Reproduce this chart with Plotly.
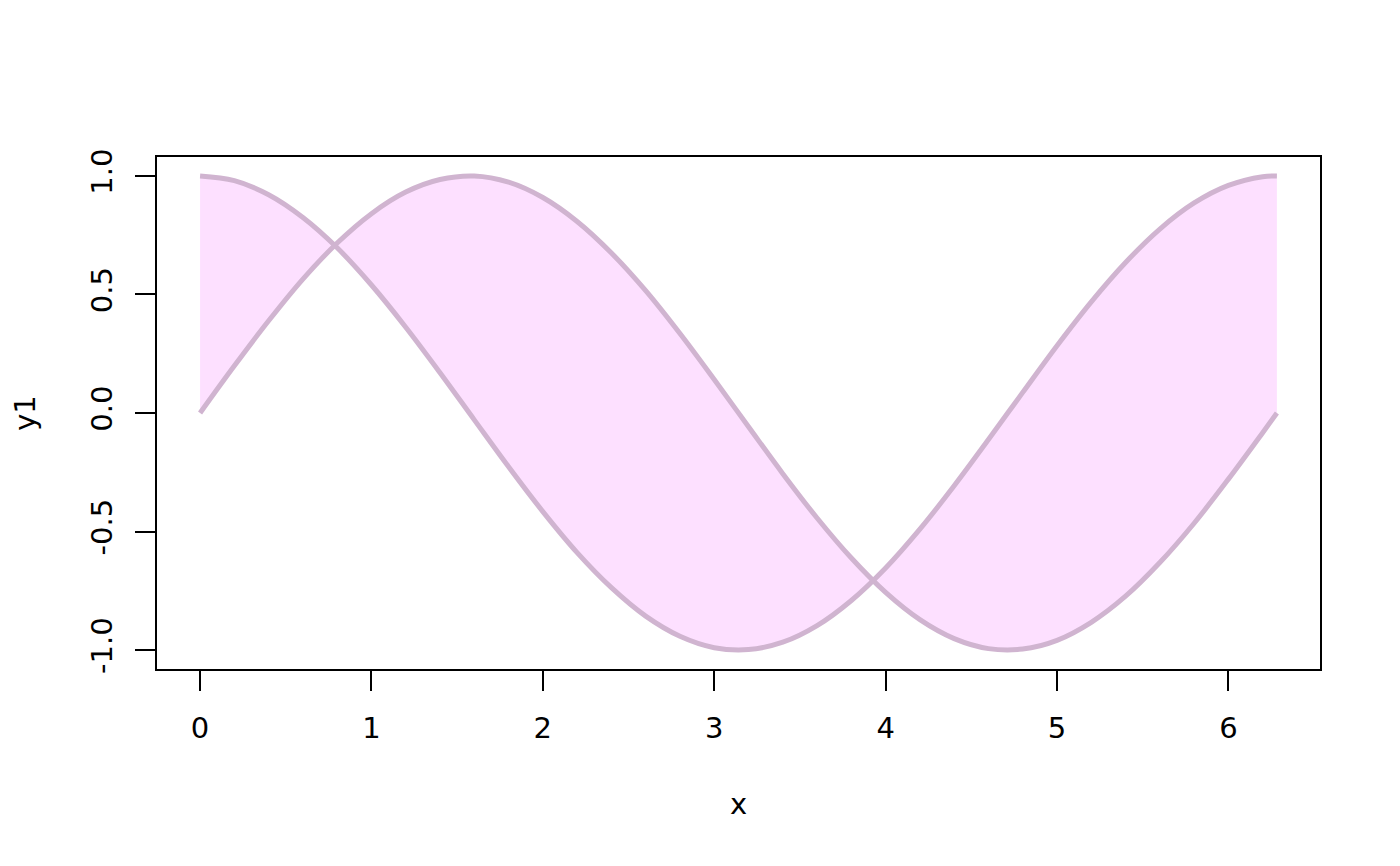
import plotly.graph_objects as go

x = [0, 0.2, 0.4, 0.6, 0.8, 1.0, 1.2, 1.4, 1.6, 1.8, 2.0, 2.2, 2.4, 2.6, 2.8, 3.0,
     3.2, 3.4, 3.6, 3.8, 4.0, 4.2, 4.4, 4.6, 4.8, 5.0, 5.2, 5.4, 5.6, 5.8, 6.0, 6.2, 6.283]
y1 = [0, 0.199, 0.389, 0.565, 0.717, 0.841, 0.932, 0.985, 1.000, 0.974, 0.909, 0.808,
      0.675, 0.516, 0.335, 0.141, -0.058, -0.256, -0.443, -0.612, -0.757, -0.872,
      -0.952, -0.994, -0.996, -0.959, -0.883, -0.773, -0.631, -0.465, -0.279, -0.083, 0.0]
y2 = [1.0, 0.980, 0.921, 0.825, 0.697, 0.540, 0.362, 0.170, -0.029, -0.227, -0.416,
      -0.589, -0.737, -0.857, -0.942, -0.990, -0.998, -0.967, -0.897, -0.791, -0.654,
      -0.490, -0.307, -0.112, 0.087, 0.284, 0.469, 0.635, 0.776, 0.886, 0.960, 0.997, 1.0]
xticks = [0, 1, 2, 3, 4, 5, 6]
yticks = [-1.0, -0.5, 0.0, 0.5, 1.0]
ytick_labels = ["-1.0", "-0.5", "0.0", "0.5", "1.0"]

line_col = "#D0B4D0"
fill_col = "#FDE0FF"
font = "DejaVu Sans"

fig = go.Figure()
fig.add_trace(go.Scatter(x=x, y=y2, mode="lines", line=dict(color=line_col, width=5, shape="spline"),
                         showlegend=False, hoverinfo="skip"))
fig.add_trace(go.Scatter(x=x, y=y1, mode="lines", line=dict(color=line_col, width=5, shape="spline"),
                         fill="tonexty", fillcolor=fill_col, showlegend=False, hoverinfo="skip"))

fig.update_layout(
    width=1392, height=858,
    margin=dict(l=149, r=80, t=149, b=197),
    paper_bgcolor="white", plot_bgcolor="white",
    font=dict(family=font, size=29, color="black"),
    xaxis=dict(range=[-0.2513, 6.5345], tickvals=xticks, ticktext=[str(v) for v in xticks],
               showline=True, linecolor="black", linewidth=1.5, mirror=True,
               ticks="outside", ticklen=20, tickwidth=1.5, tickcolor="black",
               tickfont=dict(family=font, size=29, color="black"),
               showgrid=False, zeroline=False, ticklabelstandoff=12,
               title=dict(text="x", standoff=50, font=dict(family=font, size=29))),
    yaxis=dict(range=[-1.08, 1.08], tickvals=yticks, ticktext=ytick_labels,
               showline=True, linecolor="black", linewidth=1.5, mirror=True,
               ticks="outside", ticklen=20, tickwidth=1.5, tickcolor="black",
               tickfont=dict(family=font, size=29, color="black"),
               showgrid=False, zeroline=False, tickangle=-90, ticklabelstandoff=12,
               title=dict(text="y1", standoff=41, font=dict(family=font, size=29))),
)

fig.write_html("out.html")
